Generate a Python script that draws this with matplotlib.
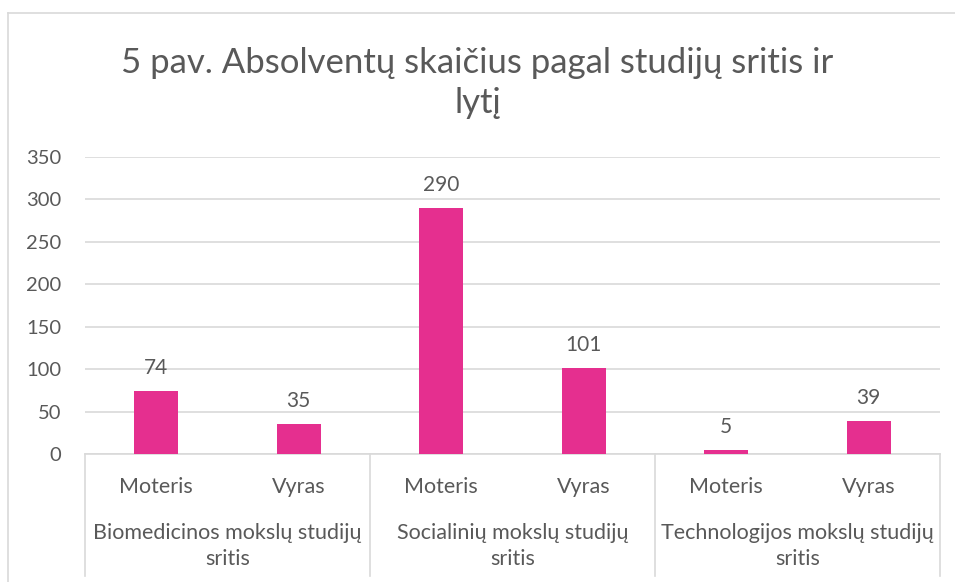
"""Absolventų skaičius pagal studijų sritis ir lytį (Excel-style column chart)."""

import matplotlib
matplotlib.use("Agg")
import matplotlib.pyplot as plt
from matplotlib.lines import Line2D
from matplotlib.transforms import blended_transform_factory

# --- data ---
fields = [
    "Biomedicinos mokslų studijų\nsritis",
    "Socialinių mokslų studijų\nsritis",
    "Technologijos mokslų studijų\nsritis",
]
genders = ["Moteris", "Vyras"]
counts = [74, 35, 290, 101, 5, 39]
y_ticks = [0, 50, 100, 150, 200, 250, 300, 350]
title = "5 pav. Absolventų skaičius pagal studijų sritis ir\nlytį"

BAR = "#E52F8F"
TEXT = "#595959"
GRID = "#D9D9D9"
W, H = 955, 582

plt.rcParams["font.family"] = ["Lato", "DejaVu Sans"]

fig = plt.figure(figsize=(W / 100, H / 100), dpi=100)
ax = fig.add_axes([85 / W, 1 - 454 / H, (940 - 85) / W, (454 - 157) / H])

x = list(range(len(counts)))
bars = ax.bar(x, counts, width=0.31, color=BAR, zorder=3)
for b, v in zip(bars, counts):
    ax.annotate(str(v), (b.get_x() + b.get_width() / 2, v),
                xytext=(0, 9.5), textcoords="offset points",
                ha="center", va="bottom", fontsize=15, color=TEXT)

ax.set_xlim(-0.5, len(counts) - 0.5)
ax.set_ylim(0, 350)
ax.set_yticks(y_ticks)
ax.tick_params(axis="y", length=0, labelsize=14.5, labelcolor=TEXT, pad=17)
ax.set_xticks([])
ax.grid(axis="y", color=GRID, linewidth=1.2, zorder=0)
for s in ("top", "right", "left"):
    ax.spines[s].set_visible(False)
ax.spines["bottom"].set_color(GRID)
ax.spines["bottom"].set_linewidth(1.2)

# multi-level category axis
tr = blended_transform_factory(ax.transData, fig.transFigure)
for i in x:
    ax.text(i, 1 - 487 / H, genders[i % 2], transform=tr, ha="center",
            va="center", fontsize=15.5, color=TEXT)
for g, name in enumerate(fields):
    ax.text(2 * g + 0.5, 1 - 546 / H, name, transform=tr, ha="center",
            va="center", fontsize=15.5, color=TEXT, linespacing=1.35)
for sep in (-0.5, 1.5, 3.5, 5.5):
    ax.add_line(Line2D([sep, sep], [1 - 454 / H, 1 - 576 / H], transform=tr,
                       color=GRID, linewidth=1.2, clip_on=False))

fig.text(0.5, 1 - 83 / H, title, ha="center", va="center", fontsize=25,
         color=TEXT, linespacing=1.3)

# chart area border (only top and left visible in the crop)
fig.add_artist(Line2D([8 / W, 8 / W], [0, 1 - 13 / H], transform=fig.transFigure,
                      color=GRID, linewidth=1.2))
fig.add_artist(Line2D([8 / W, 1], [1 - 13 / H, 1 - 13 / H], transform=fig.transFigure,
                      color=GRID, linewidth=1.2))

fig.savefig("out.png", dpi=100)
